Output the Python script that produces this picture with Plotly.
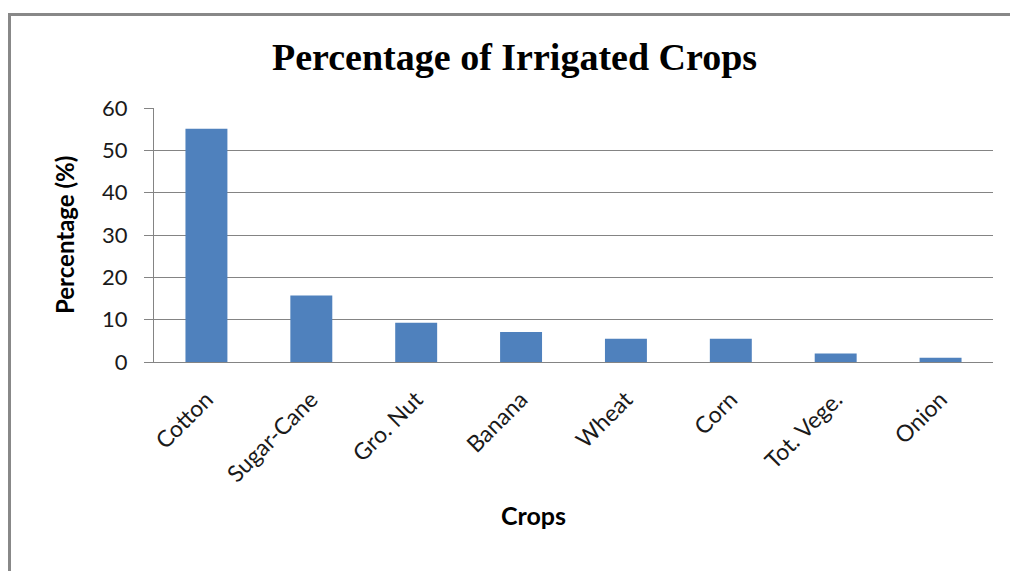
import plotly.graph_objects as go

crops = ["Cotton", "Sugar-Cane", "Gro. Nut", "Banana", "Wheat", "Corn", "Tot. Vege.", "Onion"]
percent = [55.1, 15.7, 9.3, 7.1, 5.5, 5.5, 2.0, 1.0]
y_ticks = [0, 10, 20, 30, 40, 50, 60]

W, H = 1010, 571
ml, mr, mt, mb = 154, 17, 108, 209
pw, ph = W - ml - mr, H - mt - mb

def px(x):
    return (x - ml) / pw

def py(y):
    return (H - mb - y) / ph

fig = go.Figure(go.Bar(
    x=crops, y=percent, marker=dict(color="#4F81BD", line=dict(width=0)),
    width=0.4,
))

grid = "#848484"
fig.update_layout(
    width=W, height=H,
    margin=dict(l=ml, r=mr, t=mt, b=mb),
    paper_bgcolor="white", plot_bgcolor="white",
    showlegend=False,
    font=dict(family="Lato, Open Sans, sans-serif", color="#1a1a1a"),
    xaxis=dict(
        tickangle=-45, tickfont=dict(size=23, family="Lato, sans-serif", color="#1a1a1a"),
        showgrid=False, showline=True, linecolor=grid, linewidth=1,
        ticks="", zeroline=False, ticklabelstandoff=14,
    ),
    yaxis=dict(
        range=[0, 60], tickvals=y_ticks, tickfont=dict(size=22, family="Lato, sans-serif", color="#1a1a1a"),
        showgrid=True, gridcolor=grid, gridwidth=1,
        showline=True, linecolor=grid, linewidth=1,
        ticks="outside", ticklen=9, tickcolor=grid, ticklabelstandoff=12,
        zeroline=False,
    ),
    annotations=[
        dict(text="<b>Percentage of Irrigated Crops</b>", xref="paper", yref="paper",
             x=px(514), y=py(57), showarrow=False, xanchor="center", yanchor="middle",
             font=dict(family="Liberation Serif, serif", size=38, color="black")),
        dict(text="<b>Percentage (%)</b>", xref="paper", yref="paper",
             x=px(64), y=py(235), showarrow=False, xanchor="center", yanchor="middle",
             textangle=-90, font=dict(family="Lato, sans-serif", size=24, color="black")),
        dict(text="<b>Crops</b>", xref="paper", yref="paper",
             x=px(533), y=py(515), showarrow=False, xanchor="center", yanchor="middle",
             font=dict(family="Lato, sans-serif", size=25, color="black")),
    ],
    shapes=[
        dict(type="line", xref="paper", yref="paper", x0=px(9.5), x1=px(1012), y0=py(14.5), y1=py(14.5),
             line=dict(color="#888888", width=3)),
        dict(type="line", xref="paper", yref="paper", x0=px(9.5), x1=px(9.5), y0=py(13), y1=py(575),
             line=dict(color="#888888", width=3)),
    ],
)

fig.write_html("out.html")
